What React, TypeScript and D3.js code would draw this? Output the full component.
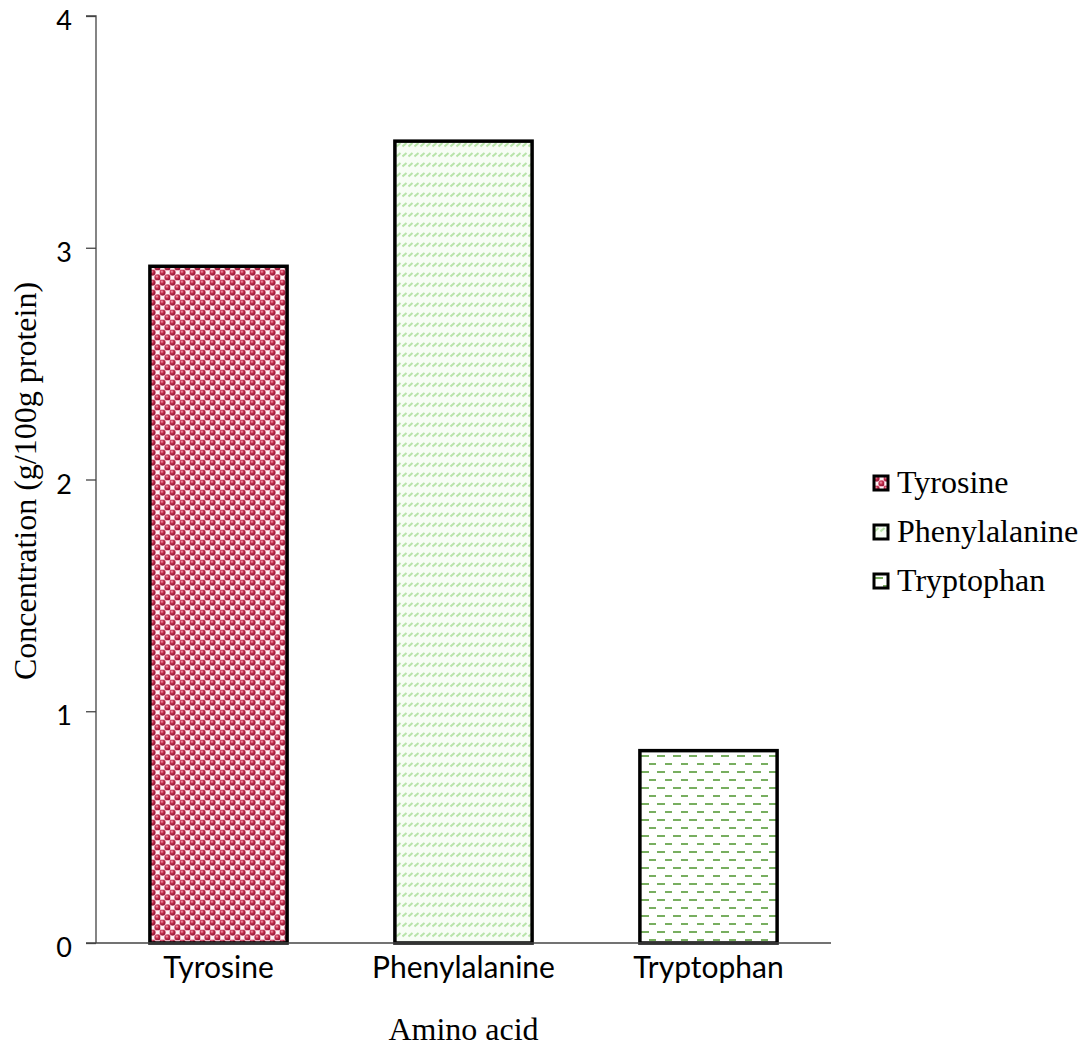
import React, { useEffect, useRef } from "react";
import * as d3 from "d3";

const categories = ["Tyrosine", "Phenylalanine", "Tryptophan"];
const concentrations = [2.92, 3.46, 0.83];
const yTicks = [0, 1, 2, 3, 4];
const patternIds = ["pat-tyr", "pat-phe", "pat-trp"];

const W = 1091;
const H = 1054;
const margin = { left: 96, right: 260, top: 16, bottom: 111 };
const SANS = "Lato, 'Open Sans', sans-serif";
const SERIF = "'Liberation Serif', 'Times New Roman', serif";

export default function App() {
  const ref = useRef<SVGSVGElement | null>(null);

  useEffect(() => {
    const svg = d3.select(ref.current);
    svg.selectAll("*").remove();

    const defs = svg.append("defs");

    // Tyrosine: crimson beads on pink
    const p1 = defs.append("pattern").attr("id", patternIds[0])
      .attr("patternUnits", "userSpaceOnUse").attr("width", 10).attr("height", 10);
    const rg = defs.append("radialGradient").attr("id", "bead").attr("cx", "40%").attr("cy", "35%").attr("r", "65%");
    rg.append("stop").attr("offset", "0%").attr("stop-color", "#f3a3b6");
    rg.append("stop").attr("offset", "45%").attr("stop-color", "#c4304f");
    rg.append("stop").attr("offset", "100%").attr("stop-color", "#8e1232");
    p1.append("rect").attr("width", 10).attr("height", 10).attr("fill", "#efb3c2");
    [[2.5, 2.5], [7.5, 7.5]].forEach(([cx, cy]) =>
      p1.append("circle").attr("cx", cx).attr("cy", cy).attr("r", 2.9).attr("fill", "url(#bead)"));
    [[7.5, 2.5], [2.5, 7.5]].forEach(([cx, cy]) =>
      p1.append("rect").attr("x", cx - 1.5).attr("y", cy - 1.5).attr("width", 3).attr("height", 3).attr("fill", "#fff3f6"));

    // Phenylalanine: pale green slanted dashes in rows
    const p2 = defs.append("pattern").attr("id", patternIds[1])
      .attr("patternUnits", "userSpaceOnUse").attr("width", 6).attr("height", 10);
    p2.append("rect").attr("width", 6).attr("height", 10).attr("fill", "#f7fdf5");
    p2.append("line").attr("x1", 0.5).attr("y1", 6.5).attr("x2", 4.5).attr("y2", 3)
      .attr("stroke", "#b8e4aa").attr("stroke-width", 2);

    // Tryptophan: staggered green dashes on white
    const p3 = defs.append("pattern").attr("id", patternIds[2])
      .attr("patternUnits", "userSpaceOnUse").attr("width", 16).attr("height", 16);
    p3.append("rect").attr("width", 16).attr("height", 16).attr("fill", "#ffffff");
    p3.append("rect").attr("x", 1).attr("y", 3).attr("width", 8).attr("height", 2).attr("fill", "#78ae60");
    p3.append("rect").attr("x", 9).attr("y", 11).attr("width", 8).attr("height", 2).attr("fill", "#78ae60");

    const x = d3.scaleBand<string>().domain(categories)
      .range([margin.left, W - margin.right]).paddingInner(0.44).paddingOuter(0.22);
    const y = d3.scaleLinear().domain([0, 4]).range([H - margin.bottom, margin.top]);

    // bars
    svg.append("g").selectAll("rect").data(categories).join("rect")
      .attr("x", (d) => x(d)!)
      .attr("y", (d, i) => y(concentrations[i]))
      .attr("width", x.bandwidth())
      .attr("height", (d, i) => y(0) - y(concentrations[i]))
      .attr("fill", (d, i) => `url(#${patternIds[i]})`)
      .attr("stroke", "#000").attr("stroke-width", 3.5);

    // y axis
    const yAxis = svg.append("g").attr("transform", `translate(${margin.left},0)`)
      .call(d3.axisLeft(y).tickValues(yTicks).tickFormat(d3.format("d")).tickSize(10).tickPadding(14));
    yAxis.select(".domain").attr("stroke", "#444").attr("stroke-width", 1.3).attr("d", `M-10,${y(4)}H0V${y(0)}`);
    yAxis.selectAll(".tick line").attr("stroke", "#444").attr("stroke-width", 1.3);
    yAxis.selectAll(".tick text").attr("font-family", SANS).attr("font-size", 27).attr("fill", "#000")
      .attr("dy", "0.5em");

    // x baseline
    svg.append("line").attr("x1", margin.left - 10).attr("x2", W - margin.right)
      .attr("y1", y(0)).attr("y2", y(0)).attr("stroke", "#444").attr("stroke-width", 1.3);

    // category labels
    svg.append("g").selectAll("text").data(categories).join("text")
      .attr("x", (d) => x(d)! + x.bandwidth() / 2)
      .attr("y", y(0) + 35)
      .attr("text-anchor", "middle")
      .attr("font-family", SANS).attr("font-size", 30)
      .text((d) => d);

    // axis titles
    svg.append("text").attr("x", (margin.left + W - margin.right) / 2).attr("y", 1040)
      .attr("text-anchor", "middle").attr("font-family", SERIF).attr("font-size", 32)
      .text("Amino acid");
    svg.append("text").attr("transform", `translate(36,${481}) rotate(-90)`)
      .attr("text-anchor", "middle").attr("font-family", SERIF).attr("font-size", 32)
      .text("Concentration (g/100g protein)");

    // legend
    const lg = svg.append("g").selectAll("g").data(categories).join("g")
      .attr("transform", (d, i) => `translate(874,${476 + i * 49})`);
    lg.append("rect").attr("width", 14).attr("height", 14)
      .attr("fill", (d, i) => `url(#${patternIds[i]})`).attr("stroke", "#000").attr("stroke-width", 3);
    lg.append("text").attr("x", 23).attr("y", 17)
      .attr("font-family", SERIF).attr("font-size", 32)
      .text((d) => d);
  }, []);

  return (
    <svg ref={ref} width={W} height={H}
      style={{ position: "absolute", left: 0, top: 0, background: "#fff" }} />
  );
}
